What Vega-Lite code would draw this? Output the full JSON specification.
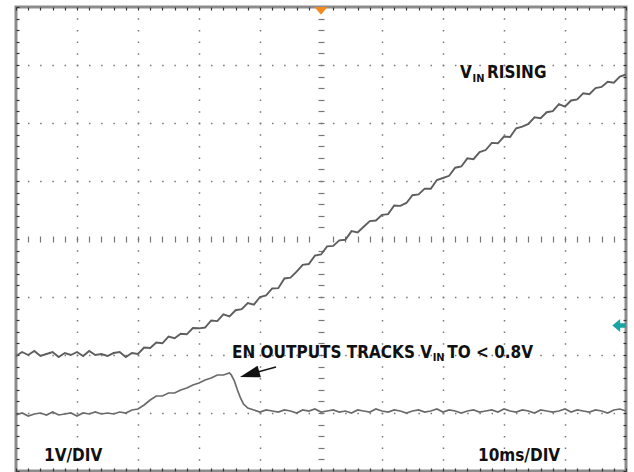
{
"$schema": "https://vega.github.io/schema/vega-lite/v6.json",
"width": 610, "height": 464,
"autosize": {"type": "none"},
"padding": {"left": 16, "top": 7, "right": 8, "bottom": 1},
"background": "white",
"config": {"view": {"stroke": "#8c8c8c", "strokeWidth": 3}, "axis": {"title": null}},
"resolve": {"axis": {"x": "independent", "y": "independent"}},
"datasets": {
"vin": [
{"t":0,"v":1.983},{"t":1,"v":2.052},{"t":2,"v":2.000},{"t":3,"v":2.069},{"t":4,"v":1.983},{"t":5,"v":2.017},{"t":6,"v":2.052},{"t":7,"v":1.966},{"t":8,"v":2.034},{"t":9,"v":2.000},
{"t":10,"v":2.052},{"t":11,"v":1.983},{"t":12,"v":2.069},{"t":13,"v":2.000},{"t":14,"v":2.017},{"t":15,"v":1.983},{"t":16,"v":2.034},{"t":17,"v":2.052},{"t":18,"v":1.966},{"t":19,"v":2.034},
{"t":20,"v":2.017},{"t":21,"v":2.129},{"t":22,"v":2.121},{"t":23,"v":2.216},{"t":24,"v":2.202},{"t":25,"v":2.319},{"t":26,"v":2.290},{"t":27,"v":2.367},{"t":28,"v":2.357},{"t":29,"v":2.464},
{"t":30,"v":2.460},{"t":31,"v":2.474},{"t":32,"v":2.595},{"t":33,"v":2.584},{"t":34,"v":2.702},{"t":35,"v":2.667},{"t":36,"v":2.772},{"t":37,"v":2.790},{"t":38,"v":2.895},{"t":39,"v":2.867},
{"t":40,"v":3.000},{"t":41,"v":3.029},{"t":42,"v":3.147},{"t":43,"v":3.152},{"t":44,"v":3.319},{"t":45,"v":3.334},{"t":46,"v":3.436},{"t":47,"v":3.555},{"t":48,"v":3.569},{"t":49,"v":3.714},
{"t":50,"v":3.733},{"t":51,"v":3.874},{"t":52,"v":3.881},{"t":53,"v":3.976},{"t":54,"v":3.986},{"t":55,"v":4.136},{"t":56,"v":4.114},{"t":57,"v":4.210},{"t":58,"v":4.309},{"t":59,"v":4.319},
{"t":60,"v":4.417},{"t":61,"v":4.429},{"t":62,"v":4.578},{"t":63,"v":4.572},{"t":64,"v":4.621},{"t":65,"v":4.755},{"t":66,"v":4.769},{"t":67,"v":4.869},{"t":68,"v":4.866},{"t":69,"v":5.017},
{"t":70,"v":5.052},{"t":71,"v":5.090},{"t":72,"v":5.229},{"t":73,"v":5.250},{"t":74,"v":5.390},{"t":75,"v":5.376},{"t":76,"v":5.498},{"t":77,"v":5.534},{"t":78,"v":5.657},{"t":79,"v":5.650},
{"t":80,"v":5.766},{"t":81,"v":5.759},{"t":82,"v":5.909},{"t":83,"v":5.938},{"t":84,"v":5.983},{"t":85,"v":6.098},{"t":86,"v":6.083},{"t":87,"v":6.186},{"t":88,"v":6.205},{"t":89,"v":6.326},
{"t":90,"v":6.284},{"t":91,"v":6.388},{"t":92,"v":6.407},{"t":93,"v":6.514},{"t":94,"v":6.498},{"t":95,"v":6.603},{"t":96,"v":6.621},{"t":97,"v":6.710},{"t":98,"v":6.695},{"t":99,"v":6.802},
{"t":100,"v":6.836}
],
"en": [
{"t":0,"v":0.966},{"t":1,"v":1.000},{"t":2,"v":0.948},{"t":3,"v":0.983},{"t":4,"v":1.000},{"t":5,"v":0.966},{"t":6,"v":1.017},{"t":7,"v":0.966},{"t":8,"v":0.983},{"t":9,"v":1.000},
{"t":10,"v":0.948},{"t":11,"v":1.000},{"t":12,"v":0.983},{"t":13,"v":1.017},{"t":14,"v":0.983},{"t":15,"v":1.000},{"t":16,"v":0.983},{"t":17,"v":1.017},{"t":18,"v":1.000},{"t":19,"v":1.052},
{"t":20,"v":1.069},{"t":21,"v":1.138},{"t":22,"v":1.224},{"t":23,"v":1.293},{"t":24,"v":1.293},{"t":25,"v":1.345},{"t":26,"v":1.345},{"t":27,"v":1.397},{"t":28,"v":1.431},{"t":29,"v":1.483},
{"t":30,"v":1.517},{"t":31,"v":1.569},{"t":32,"v":1.603},{"t":33,"v":1.655},{"t":34,"v":1.655},{"t":35,"v":1.690},{"t":35.3,"v":1.655},{"t":35.8,"v":1.552},{"t":36.3,"v":1.397},{"t":36.8,"v":1.259},
{"t":37.3,"v":1.155},{"t":38,"v":1.086},{"t":39,"v":1.052},
{"t":40,"v":1.017},{"t":41,"v":1.052},{"t":42,"v":1.034},{"t":43,"v":1.017},{"t":44,"v":1.052},{"t":45,"v":1.034},{"t":46,"v":1.000},{"t":47,"v":1.052},{"t":48,"v":1.034},{"t":49,"v":1.069},
{"t":50,"v":1.017},{"t":51,"v":1.034},{"t":52,"v":1.052},{"t":53,"v":1.017},{"t":54,"v":1.034},{"t":55,"v":1.000},{"t":56,"v":1.052},{"t":57,"v":1.034},{"t":58,"v":1.017},{"t":59,"v":1.069},
{"t":60,"v":1.034},{"t":61,"v":1.017},{"t":62,"v":1.052},{"t":63,"v":1.034},{"t":64,"v":1.000},{"t":65,"v":1.034},{"t":66,"v":1.052},{"t":67,"v":1.017},{"t":68,"v":1.034},{"t":69,"v":1.069},
{"t":70,"v":1.017},{"t":71,"v":1.052},{"t":72,"v":1.034},{"t":73,"v":1.000},{"t":74,"v":1.034},{"t":75,"v":1.052},{"t":76,"v":1.017},{"t":77,"v":1.034},{"t":78,"v":1.052},{"t":79,"v":1.017},
{"t":80,"v":1.069},{"t":81,"v":1.034},{"t":82,"v":1.017},{"t":83,"v":1.052},{"t":84,"v":1.034},{"t":85,"v":1.000},{"t":86,"v":1.052},{"t":87,"v":1.034},{"t":88,"v":1.017},{"t":89,"v":1.034},
{"t":90,"v":1.069},{"t":91,"v":1.017},{"t":92,"v":1.052},{"t":93,"v":1.034},{"t":94,"v":1.017},{"t":95,"v":1.052},{"t":96,"v":1.034},{"t":97,"v":1.000},{"t":98,"v":1.052},{"t":99,"v":1.069},
{"t":100,"v":1.034}
],
"labels": [
{"t":72.79,"v":6.776,"text":"V"},
{"t":77.2,"v":6.776,"text":"RISING"},
{"t":35.41,"v":1.948,"text":"EN OUTPUTS TRACKS V"},
{"t":70.7,"v":1.948,"text":"TO < 0.8V"},
{"t":4.59,"v":0.172,"text":"1V/DIV"},
{"t":75.74,"v":0.172,"text":"10ms/DIV"}
],
"subs": [
{"t":74.85,"v":6.707,"text":"IN"},
{"t":68.3,"v":1.897,"text":"IN"}
],
"arrow": [{"t":42.62,"v":1.793},{"t":38.69,"v":1.681}],
"tip": [{"t":36.72,"v":1.621}],
"trig": [{"t":50,"v":8}],
"lvl": [{"t":100,"v":2.51}]
},
"layer": [
{"mark": {"type": "rule", "color": "#888", "strokeWidth": 1, "strokeDash": [1.2, 1.8]},
 "encoding": {"x": {"datum": 50, "type": "quantitative", "scale": {"domain": [0, 100], "nice": false, "zero": false}, "axis": null}}},
{"mark": {"type": "rule", "color": "#888", "strokeWidth": 1, "strokeDash": [1.2, 1.8]},
 "encoding": {"y": {"datum": 4, "type": "quantitative", "scale": {"domain": [0, 8], "nice": false, "zero": false}, "axis": null}}},
{"data": {"name": "vin"},
 "mark": {"type": "line", "color": "#5e5e5e", "strokeWidth": 1.9},
 "encoding": {
  "x": {"field": "t", "type": "quantitative", "scale": {"domain": [0, 100], "nice": false, "zero": false},
        "axis": {"orient": "bottom", "values": [10,20,30,40,60,70,80,90], "ticks": false, "labels": false, "domain": false, "grid": true, "gridColor": "#777", "gridWidth": 1.5, "gridDash": [1.5, 10.1], "gridDashOffset": 0.75}},
  "y": {"field": "v", "type": "quantitative", "scale": {"domain": [0, 8], "nice": false, "zero": false},
        "axis": {"orient": "left", "values": [1,2,3,5,6,7], "ticks": false, "labels": false, "domain": false, "grid": true, "gridColor": "#777", "gridWidth": 1.5, "gridDash": [1.5, 10.7], "gridDashOffset": 0.75}}}},
{"data": {"name": "en"},
 "mark": {"type": "line", "color": "#6a6a6a", "strokeWidth": 1.7},
 "encoding": {
  "x": {"field": "t", "type": "quantitative", "scale": {"domain": [0, 100], "nice": false, "zero": false},
        "axis": {"orient": "top", "offset": -3, "tickSize": 3, "tickColor": "#333", "tickWidth": 1.2, "labels": false, "domain": false, "grid": false,
                 "values": [0,2,4,6,8,10,12,14,16,18,20,22,24,26,28,30,32,34,36,38,40,42,44,46,48,50,52,54,56,58,60,62,64,66,68,70,72,74,76,78,80,82,84,86,88,90,92,94,96,98,100]}},
  "y": {"field": "v", "type": "quantitative", "scale": {"domain": [0, 8], "nice": false, "zero": false},
        "axis": {"orient": "left", "offset": -3, "tickSize": 3, "tickColor": "#333", "tickWidth": 1.2, "labels": false, "domain": false, "grid": false,
                 "values": [0,0.2,0.4,0.6,0.8,1,1.2,1.4,1.6,1.8,2,2.2,2.4,2.6,2.8,3,3.2,3.4,3.6,3.8,4,4.2,4.4,4.6,4.8,5,5.2,5.4,5.6,5.8,6,6.2,6.4,6.6,6.8,7,7.2,7.4,7.6,7.8,8]}}}},
{"data": {"name": "labels"},
 "mark": {"type": "text", "align": "left", "baseline": "alphabetic", "font": "DejaVu Sans Condensed, Liberation Sans Narrow, sans-serif", "fontWeight": "bold", "fontSize": 17, "color": "#111"},
 "encoding": {
  "x": {"field": "t", "type": "quantitative", "scale": {"domain": [0, 100], "nice": false, "zero": false},
        "axis": {"orient": "bottom", "offset": -3, "tickSize": 3, "tickColor": "#333", "tickWidth": 1.2, "labels": false, "domain": false, "grid": false,
                 "values": [0,2,4,6,8,10,12,14,16,18,20,22,24,26,28,30,32,34,36,38,40,42,44,46,48,50,52,54,56,58,60,62,64,66,68,70,72,74,76,78,80,82,84,86,88,90,92,94,96,98,100]}},
  "y": {"field": "v", "type": "quantitative", "scale": {"domain": [0, 8], "nice": false, "zero": false},
        "axis": {"orient": "right", "offset": -3, "tickSize": 3, "tickColor": "#333", "tickWidth": 1.2, "labels": false, "domain": false, "grid": false,
                 "values": [0,0.2,0.4,0.6,0.8,1,1.2,1.4,1.6,1.8,2,2.2,2.4,2.6,2.8,3,3.2,3.4,3.6,3.8,4,4.2,4.4,4.6,4.8,5,5.2,5.4,5.6,5.8,6,6.2,6.4,6.6,6.8,7,7.2,7.4,7.6,7.8,8]}},
  "text": {"field": "text"}}},
{"data": {"name": "subs"},
 "mark": {"type": "text", "align": "left", "baseline": "alphabetic", "font": "DejaVu Sans Condensed, Liberation Sans Narrow, sans-serif", "fontWeight": "bold", "fontSize": 11, "color": "#111"},
 "encoding": {
  "x": {"field": "t", "type": "quantitative", "scale": {"domain": [0, 100], "nice": false, "zero": false},
        "axis": {"orient": "bottom", "offset": -235, "tickSize": 6, "tickColor": "#777", "tickWidth": 1.2, "labels": false, "domain": false, "grid": false,
                 "values": [2,4,6,8,10,12,14,16,18,20,22,24,26,28,30,32,34,36,38,40,42,44,46,48,52,54,56,58,60,62,64,66,68,70,72,74,76,78,80,82,84,86,88,90,92,94,96,98]}},
  "y": {"field": "v", "type": "quantitative", "scale": {"domain": [0, 8], "nice": false, "zero": false},
        "axis": {"orient": "left", "offset": -308, "tickSize": 6, "tickColor": "#777", "tickWidth": 1.2, "labels": false, "domain": false, "grid": false,
                 "values": [0.2,0.4,0.6,0.8,1,1.2,1.4,1.6,1.8,2,2.2,2.4,2.6,2.8,3,3.2,3.4,3.6,3.8,4.2,4.4,4.6,4.8,5,5.2,5.4,5.6,5.8,6,6.2,6.4,6.6,6.8,7,7.2,7.4,7.6,7.8]}},
  "text": {"field": "text"}}},
{"data": {"name": "arrow"},
 "mark": {"type": "line", "color": "#111", "strokeWidth": 1.6},
 "encoding": {
  "x": {"field": "t", "type": "quantitative", "scale": {"domain": [0, 100], "nice": false, "zero": false}, "axis": null},
  "y": {"field": "v", "type": "quantitative", "scale": {"domain": [0, 8], "nice": false, "zero": false}, "axis": null}}},
{"data": {"name": "tip"},
 "mark": {"type": "point", "filled": true, "opacity": 1, "color": "#111", "size": 400, "shape": "M 0 0 L 2.09 0.03 L 1.76 -1.13 Z"},
 "encoding": {
  "x": {"field": "t", "type": "quantitative", "scale": {"domain": [0, 100], "nice": false, "zero": false}, "axis": null},
  "y": {"field": "v", "type": "quantitative", "scale": {"domain": [0, 8], "nice": false, "zero": false}, "axis": null}}},
{"data": {"name": "trig"},
 "mark": {"type": "point", "filled": true, "opacity": 1, "color": "#f28a1e", "size": 169, "shape": "M -1 0 L 1 0 L 0 1.2 Z"},
 "encoding": {
  "x": {"field": "t", "type": "quantitative", "scale": {"domain": [0, 100], "nice": false, "zero": false}, "axis": null},
  "y": {"field": "v", "type": "quantitative", "scale": {"domain": [0, 8], "nice": false, "zero": false}, "axis": null}}},
{"data": {"name": "lvl"},
 "mark": {"type": "point", "filled": true, "opacity": 1, "color": "#1aa3a3", "size": 169, "shape": "M -2.1 0 L -0.9 -1 L -0.9 -0.35 L 0 -0.35 L 0 0.35 L -0.9 0.35 L -0.9 1 Z"},
 "encoding": {
  "x": {"field": "t", "type": "quantitative", "scale": {"domain": [0, 100], "nice": false, "zero": false}, "axis": null},
  "y": {"field": "v", "type": "quantitative", "scale": {"domain": [0, 8], "nice": false, "zero": false}, "axis": null}}}
]
}
